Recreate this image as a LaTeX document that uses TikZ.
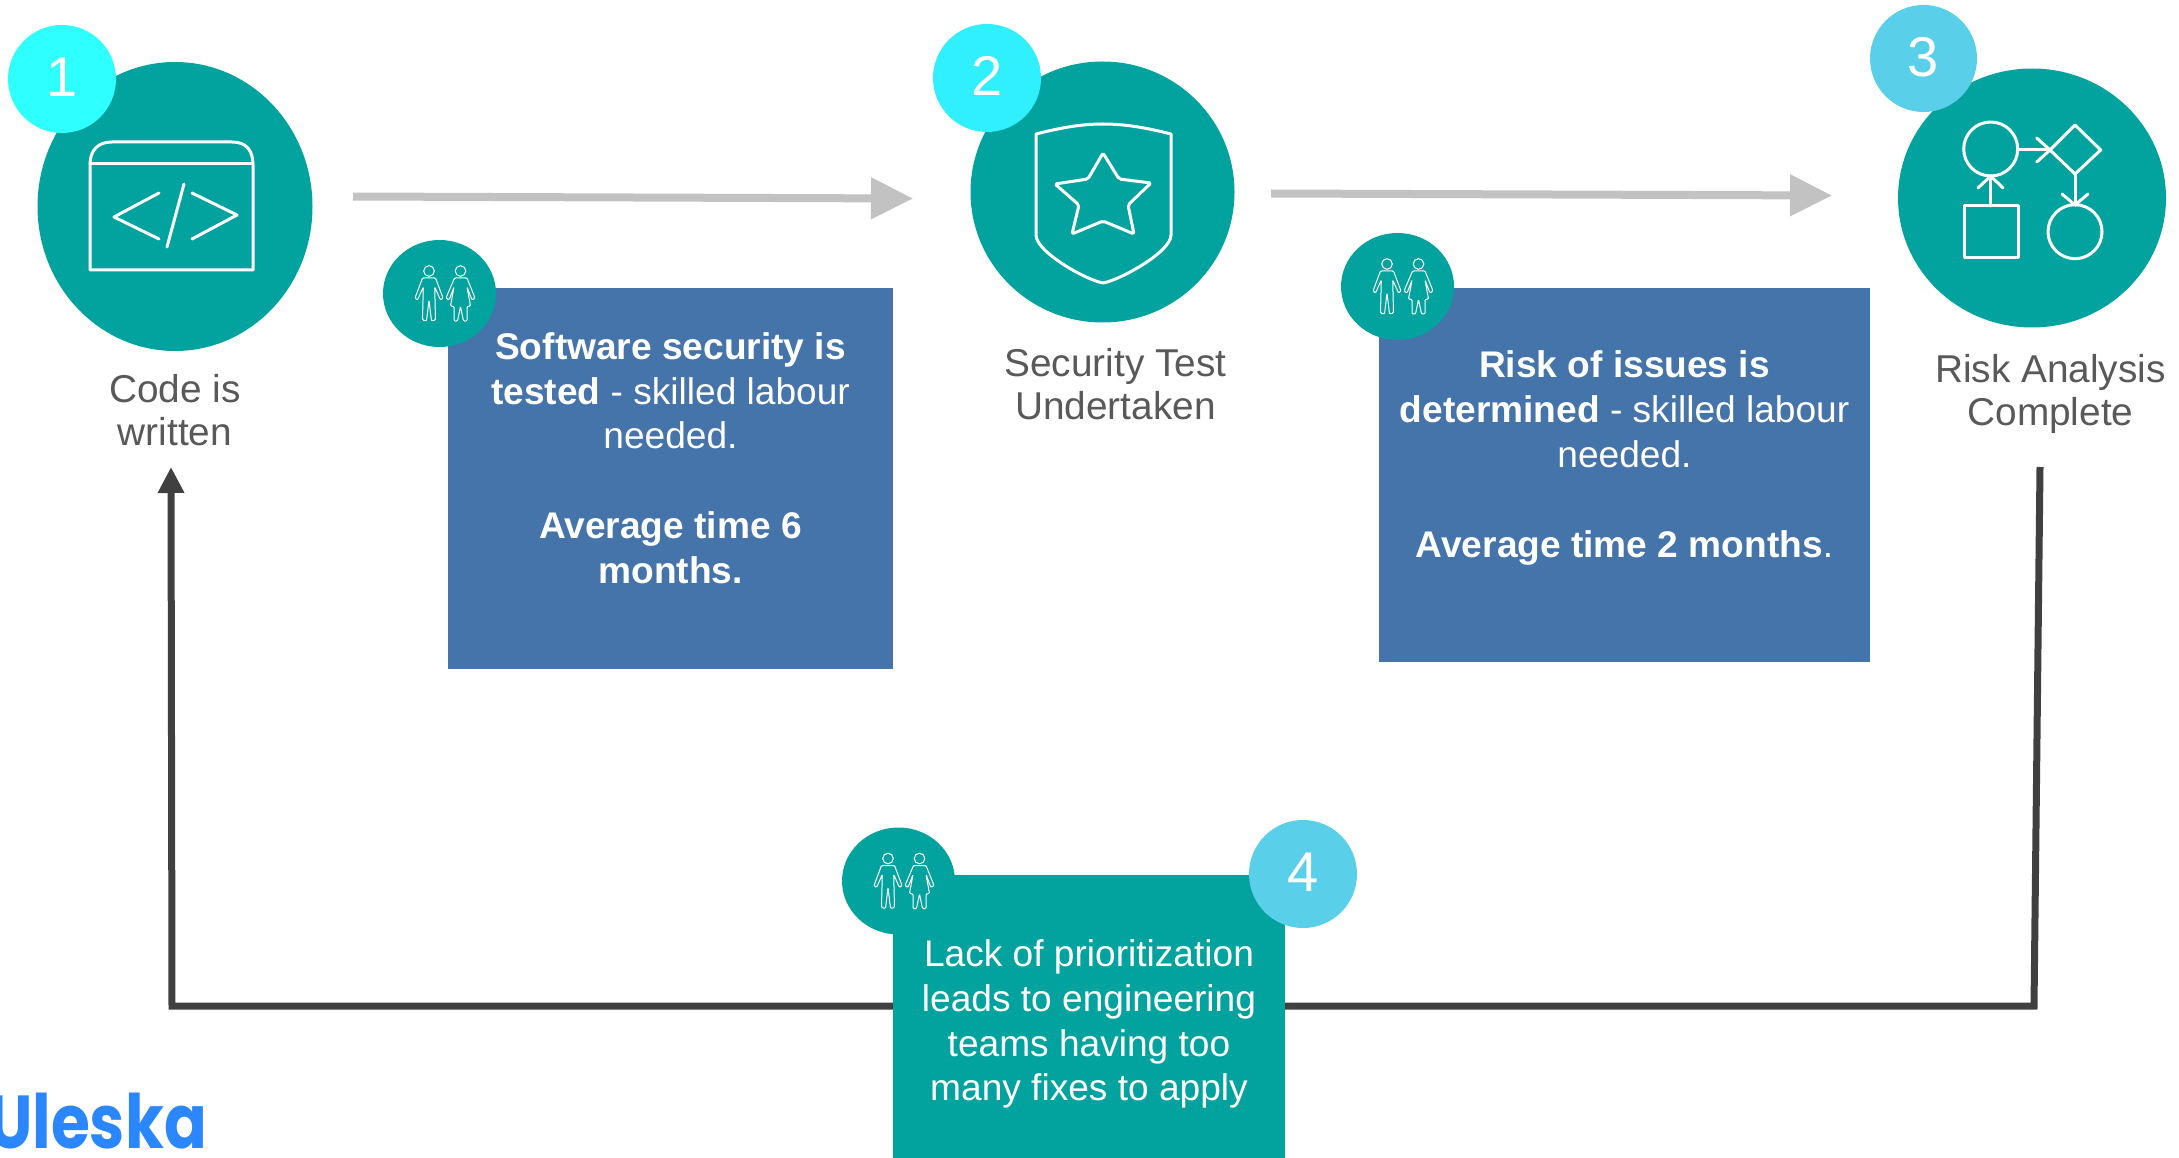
\documentclass[tikz,border=0pt]{standalone}
\usepackage{fontspec}
\setmainfont{Liberation Sans}
\newfontfamily\logofont[FakeStretch=0.84]{Poppins}
\usetikzlibrary{arrows.meta,shapes.geometric}
\definecolor{teal1}{HTML}{02A39E}
\definecolor{cyanA}{HTML}{2EFFFF}
\definecolor{cyanB}{HTML}{30F0FF}
\definecolor{skyB}{HTML}{5ACFEA}
\definecolor{blueB}{HTML}{4474A9}
\definecolor{grayA}{HTML}{C2C2C2}
\definecolor{darkA}{HTML}{404040}
\definecolor{labelc}{HTML}{595959}
\definecolor{logoc}{HTML}{2B87FF}
\tikzset{
  icon/.style={draw=white,line width=3pt,line cap=round,line join=round},
  thin icon/.style={draw=white,line width=1pt,line join=round,rounded corners=1pt},
  box text/.style={text=white,align=center,font=\fontsize{37.1}{44.8}\selectfont,inner sep=0pt},
  label text/.style={text=labelc,align=center,font=\fontsize{38.8}{43}\selectfont,inner sep=0pt},
  badge text/.style={text=white,font=\fontsize{56}{60}\selectfont,inner sep=0pt,text depth=4pt},
  peopledisc/.style={ellipse,fill=teal1,minimum width=113pt,minimum height=107pt,inner sep=0pt},
  grayarrow/.style={draw=grayA,line width=8pt,-{Triangle[length=42pt,width=40pt,fill=grayA]}},
  darkline/.style={draw=darkA,line width=7pt,line join=miter},
  pics/people/.style={code={
    \draw[thin icon] (-10,-22.5) circle[radius=5.3];
    \draw[thin icon] (-16.5,-15.5)--(-3.5,-15.5)--(4,4.5)--(1.5,6.5)--(-4.3,-6.5)--(-3.5,26.5)--(-7.5,27.5)--(-10,6.5)--(-12.5,27.5)--(-16.5,26.5)--(-15.7,-6.5)--(-21.5,6.5)--(-24,4.5)--cycle;
    \draw[thin icon] (21.5,-22.5) circle[radius=5.3];
    \draw[thin icon] (15.5,-15.5)--(28,-15.5)--(36,4.5)--(33,6.5)--(28,-6.5)--(31.5,12.5)--(28,13)--(28,27.5)--(24.5,27.5)--(21.5,13)--(18.5,27.5)--(15,27.5)--(15,13)--(11.5,12.5)--(15,-6.5)--(10,6.5)--(7,4.5)--cycle;
  }},
}
\begin{document}
\begin{tikzpicture}[x=1pt,y=-1pt]
\useasboundingbox (0,0) rectangle (2179,1158);
\clip (0,0) rectangle (2179,1158);

% free ends of the connectors
\coordinate (a1s) at (353,196.5);
\coordinate (a1e) at (913,198.5);
\coordinate (a2s) at (1271,193.5);
\coordinate (a2e) at (1832,195.5);
\coordinate (ls) at (2040,467);
\coordinate (lc1) at (2034,1006);
\coordinate (lc2) at (172,1006);
\coordinate (le) at (171,467);

\draw[grayarrow] (a1s) -- (a1e);
\draw[grayarrow] (a2s) -- (a2e);
\draw[darkline,-{Triangle[length=26pt,width=25pt,fill=darkA]}] (ls) -- (lc1) -- (lc2) -- (le);

% main discs
\fill[teal1] (175,206.5) ellipse[x radius=137.5,y radius=144.5];
\fill[teal1] (1102.5,192) ellipse[x radius=132,y radius=130.5];
\fill[teal1] (2032,198) ellipse[x radius=134,y radius=129.5];

% boxes
\node[fill=blueB,minimum width=445pt,minimum height=381pt,inner sep=0pt,anchor=north west] (box1) at (448,288) {};
\node[fill=blueB,minimum width=491pt,minimum height=374pt,inner sep=0pt,anchor=north west] (box2) at (1379,288) {};
\node[fill=teal1,minimum width=392pt,minimum height=283pt,inner sep=0pt,anchor=north west] (box3) at (893,875) {};

% small people discs
\node[peopledisc] (p1) at (439.5,293.5) {};
\node[peopledisc] (p2) at (1397.5,286.5) {};
\node[peopledisc] (p3) at (898.5,881) {};
\pic at (439,293.5) {people};
\pic at (1397,286.5) {people};
\pic at (898,881) {people};

% numbered badges
\node[circle,fill=cyanA,minimum size=108pt,inner sep=0pt,badge text] (n1) at (62,79) {1};
\node[circle,fill=cyanB,minimum size=108pt,inner sep=0pt,badge text] (n2) at (987,78) {2};
\node[circle,fill=skyB,minimum size=107pt,inner sep=0pt,badge text] (n3) at (1923.5,58.5) {3};
\node[circle,fill=skyB,minimum size=108pt,inner sep=0pt,badge text] (n4) at (1303,874) {4};

% code window icon
\draw[icon] (90,270) -- (90,165) .. controls (90,150) and (98,142) .. (112,142) -- (232,142) .. controls (246,142) and (253,150) .. (253,165) -- (253,270) -- cycle;
\draw[icon] (90,164) -- (253,164);
\draw[icon] (159,193) -- (114,217) -- (159,239);
\draw[icon] (184,184) -- (167,247);
\draw[icon] (192,193) -- (237,215) -- (192,239);

% shield icon
\draw[icon] (1036,134) .. controls (1060,128) and (1080,124) .. (1103,124) .. controls (1126,124) and (1147,128) .. (1171,134) -- (1171,235) .. controls (1171,252) and (1120,280) .. (1103,283) .. controls (1086,280) and (1036,252) .. (1036,235) -- cycle;
\draw[icon,rounded corners=2pt] (1103,153) -- (1119,179) -- (1151,183) -- (1128,205) -- (1134,234) -- (1103,221) -- (1072,234) -- (1079,205) -- (1055,184) -- (1088,179) -- cycle;

% process icon
\draw[icon] (1990.7,149) circle[radius=27];
\draw[icon] (2075,125) -- (2100.7,150) -- (2075,174) -- (2050,150) -- cycle;
\draw[icon] (2018,150) -- (2050,150);
\draw[icon] (2036.7,138) -- (2050,150) -- (2036.7,162);
\draw[icon] (1964,206) rectangle (2018,258);
\draw[icon] (1990.7,206) -- (1990.7,176);
\draw[icon] (1978,188) -- (1990.7,176) -- (2003,188);
\draw[icon] (2075,174) -- (2075,205);
\draw[icon] (2062,194) -- (2075,205) -- (2088,194);
\draw[icon] (2075,231.7) circle[radius=27];

% labels
\node[label text] (l1) at (175,410.5) {Code is\\written};
\node[label text] (l2) at (1115.5,384) {Security Test\\Undertaken};
\node[label text] (l3) at (2050.5,394) {Risk Analysis\\Complete};

% box texts
\node[box text] (t1) at (670.5,458) {\textbf{Software security is}\\\textbf{tested} - skilled labour\\needed.\\[44.8pt]\textbf{Average time 6}\\\textbf{months.}};
\node[box text] (t2) at (1624.5,458) {\textbf{Risk of issues is}\\\textbf{determined} - skilled labour\\needed.\\[44.8pt]\textbf{Average time 2 months}.};
\node[box text] (t3) at (1089,1024) {Lack of prioritization\\leads to engineering\\teams having too\\many fixes to apply};

% logo
\node[anchor=base east,text=logoc,inner sep=0pt,font=\logofont\bfseries\fontsize{75}{75}\selectfont] (logo) at (207,1148) {Uleska};
\end{tikzpicture}
\end{document}
